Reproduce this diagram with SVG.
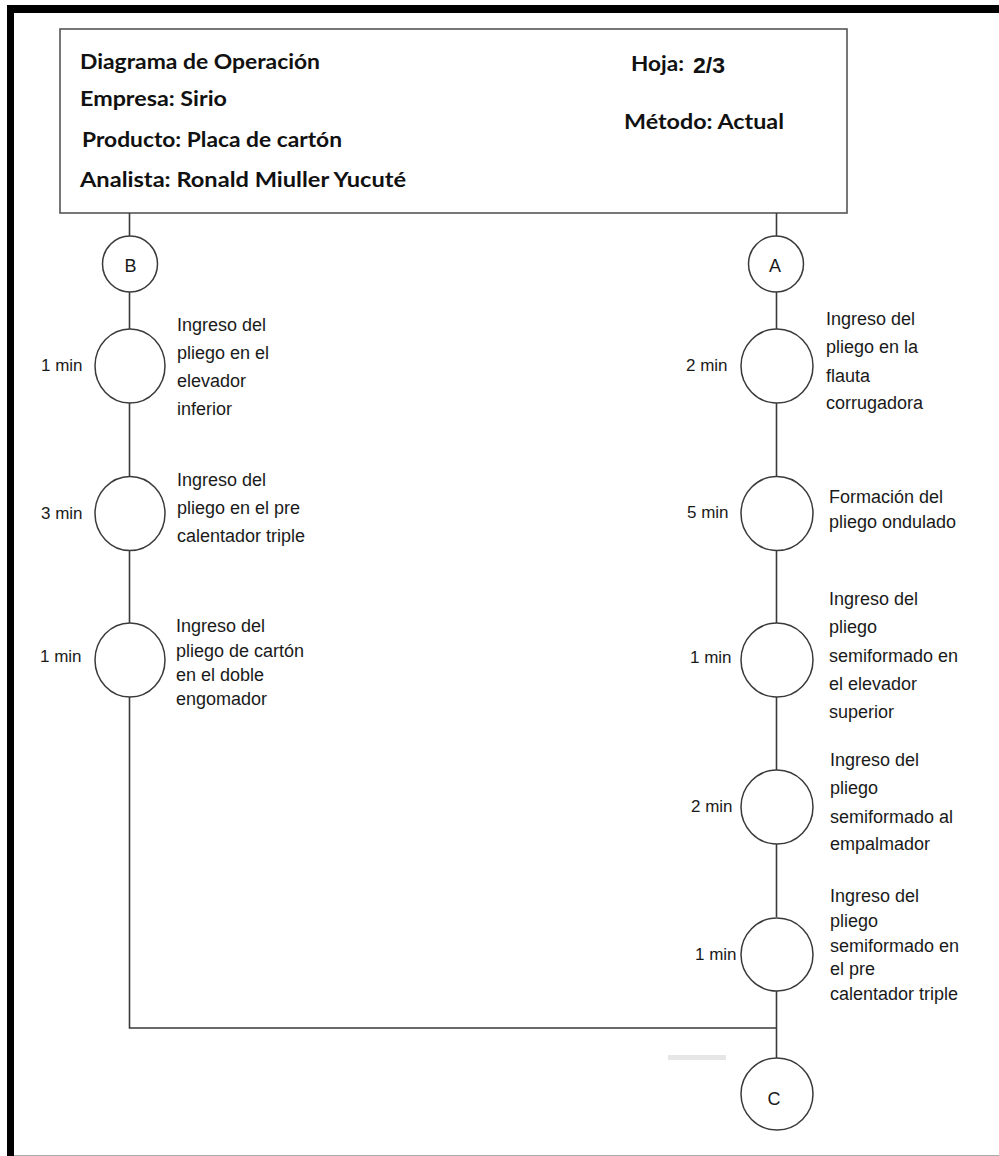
<svg xmlns="http://www.w3.org/2000/svg" width="999" height="1156" viewBox="0 0 999 1156">
  <style>
    .hdr { font-family: Lato, "Open Sans", "Liberation Sans", sans-serif; font-weight: bold; font-size: 21px; fill: #111; }
    .num { font-family: "Liberation Sans", Arial, sans-serif; font-weight: bold; font-size: 22px; fill: #111; }
    .lbl { font-family: "Liberation Sans", Arial, sans-serif; font-size: 18px; fill: #1a1a1a; }
    .tm  { font-family: "Liberation Sans", Arial, sans-serif; font-size: 17px; fill: #1a1a1a; }
    .ltr { font-family: "Liberation Sans", Arial, sans-serif; font-size: 18px; fill: #1a1a1a; text-anchor: middle; }
    .op  { fill: #fff; stroke: #3a3a3a; stroke-width: 1.5; }
    .ln  { fill: none; stroke: #3a3a3a; stroke-width: 1.6; }
  </style>

  <!-- page frame -->
  <rect x="0" y="0" width="999" height="1156" fill="#fff"/>
  <rect x="7" y="5" width="992" height="8" fill="#000"/>
  <rect x="7" y="5" width="7" height="1151" fill="#000"/>
  <line x1="14" y1="1155.5" x2="999" y2="1155.5" stroke="#aaa" stroke-width="1"/>

  <!-- header block -->
  <g id="header">
    <rect x="60" y="29" width="787" height="184" fill="#fff" stroke="#555" stroke-width="1.6"/>
    <text class="hdr" x="80" y="69" textLength="240" lengthAdjust="spacingAndGlyphs">Diagrama de Operación</text>
    <text class="hdr" x="80" y="106" textLength="147" lengthAdjust="spacingAndGlyphs">Empresa: Sirio</text>
    <text class="hdr" x="82" y="147" textLength="260" lengthAdjust="spacingAndGlyphs">Producto: Placa de cartón</text>
    <text class="hdr" x="80" y="187" textLength="326" lengthAdjust="spacingAndGlyphs">Analista: Ronald Miuller Yucuté</text>
    <text class="hdr" x="631" y="71" textLength="53" lengthAdjust="spacingAndGlyphs">Hoja:</text>
    <text class="num" x="693" y="73" textLength="32" lengthAdjust="spacingAndGlyphs">2/3</text>
    <text class="hdr" x="624" y="129" textLength="160" lengthAdjust="spacingAndGlyphs">Método: Actual</text>
  </g>

  <!-- flow lines -->
  <g id="connectors">
    <line class="ln" x1="129.5" y1="213" x2="129.5" y2="236"/>
    <line class="ln" x1="129.5" y1="292" x2="129.5" y2="329"/>
    <line class="ln" x1="129.5" y1="403" x2="129.5" y2="477"/>
    <line class="ln" x1="129.5" y1="550" x2="129.5" y2="623"/>
    <polyline class="ln" points="129.5,697 129.5,1028 777,1028"/>
    <line class="ln" x1="776.5" y1="213" x2="776.5" y2="236"/>
    <line class="ln" x1="776.5" y1="292" x2="776.5" y2="329"/>
    <line class="ln" x1="776.5" y1="403" x2="776.5" y2="477"/>
    <line class="ln" x1="776.5" y1="550" x2="776.5" y2="623"/>
    <line class="ln" x1="776.5" y1="697" x2="776.5" y2="770"/>
    <line class="ln" x1="776.5" y1="844" x2="776.5" y2="917"/>
    <line class="ln" x1="776.5" y1="991" x2="776.5" y2="1058"/>
  </g>

  <rect x="668" y="1055" width="58" height="5" fill="#e6e6e6"/>

  <!-- connectors (off-page references) -->
  <g id="ref-B">
    <ellipse class="op" cx="130" cy="264" rx="27.5" ry="28"/>
    <text class="ltr" x="130.5" y="272">B</text>
  </g>
  <g id="ref-A">
    <ellipse class="op" cx="776" cy="264" rx="27.5" ry="28"/>
    <text class="ltr" x="775" y="272">A</text>
  </g>
  <g id="ref-C">
    <ellipse class="op" cx="777" cy="1094" rx="36" ry="36"/>
    <text class="ltr" x="774" y="1105">C</text>
  </g>

  <!-- left branch operations -->
  <g id="op-L1">
    <ellipse class="op" cx="130" cy="366" rx="35" ry="37"/>
    <text class="tm" x="41" y="371">1 min</text>
    <text class="lbl" x="177" y="331">Ingreso del</text>
    <text class="lbl" x="177" y="359">pliego en el</text>
    <text class="lbl" x="177" y="387">elevador</text>
    <text class="lbl" x="177" y="415">inferior</text>
  </g>
  <g id="op-L2">
    <ellipse class="op" cx="130" cy="513.5" rx="35" ry="37"/>
    <text class="tm" x="41" y="519">3 min</text>
    <text class="lbl" x="177" y="486">Ingreso del</text>
    <text class="lbl" x="177" y="514">pliego en el pre</text>
    <text class="lbl" x="177" y="542">calentador triple</text>
  </g>
  <g id="op-L3">
    <ellipse class="op" cx="130" cy="660" rx="35" ry="37"/>
    <text class="tm" x="40" y="662">1 min</text>
    <text class="lbl" x="176" y="632">Ingreso del</text>
    <text class="lbl" x="176" y="657">pliego de cartón</text>
    <text class="lbl" x="176" y="681">en el doble</text>
    <text class="lbl" x="176" y="705">engomador</text>
  </g>

  <!-- right branch operations -->
  <g id="op-R1">
    <ellipse class="op" cx="777" cy="366" rx="36" ry="37"/>
    <text class="tm" x="686" y="371">2 min</text>
    <text class="lbl" x="826" y="325">Ingreso del</text>
    <text class="lbl" x="826" y="353">pliego en la</text>
    <text class="lbl" x="826" y="382">flauta</text>
    <text class="lbl" x="826" y="409">corrugadora</text>
  </g>
  <g id="op-R2">
    <ellipse class="op" cx="777" cy="513.5" rx="36" ry="37"/>
    <text class="tm" x="687" y="518">5 min</text>
    <text class="lbl" x="829" y="503">Formación del</text>
    <text class="lbl" x="829" y="528">pliego ondulado</text>
  </g>
  <g id="op-R3">
    <ellipse class="op" cx="777" cy="660" rx="36" ry="37"/>
    <text class="tm" x="690" y="663">1 min</text>
    <text class="lbl" x="829" y="605">Ingreso del</text>
    <text class="lbl" x="829" y="633">pliego</text>
    <text class="lbl" x="829" y="662">semiformado en</text>
    <text class="lbl" x="829" y="690">el elevador</text>
    <text class="lbl" x="829" y="718">superior</text>
  </g>
  <g id="op-R4">
    <ellipse class="op" cx="777" cy="807" rx="36" ry="37"/>
    <text class="tm" x="691" y="812">2 min</text>
    <text class="lbl" x="830" y="766">Ingreso del</text>
    <text class="lbl" x="830" y="794">pliego</text>
    <text class="lbl" x="830" y="823">semiformado al</text>
    <text class="lbl" x="830" y="850">empalmador</text>
  </g>
  <g id="op-R5">
    <ellipse class="op" cx="777" cy="954.5" rx="36" ry="36.5"/>
    <text class="tm" x="695" y="960">1 min</text>
    <text class="lbl" x="830" y="902">Ingreso del</text>
    <text class="lbl" x="830" y="927">pliego</text>
    <text class="lbl" x="830" y="952">semiformado en</text>
    <text class="lbl" x="830" y="975">el pre</text>
    <text class="lbl" x="830" y="1000">calentador triple</text>
  </g>
</svg>
